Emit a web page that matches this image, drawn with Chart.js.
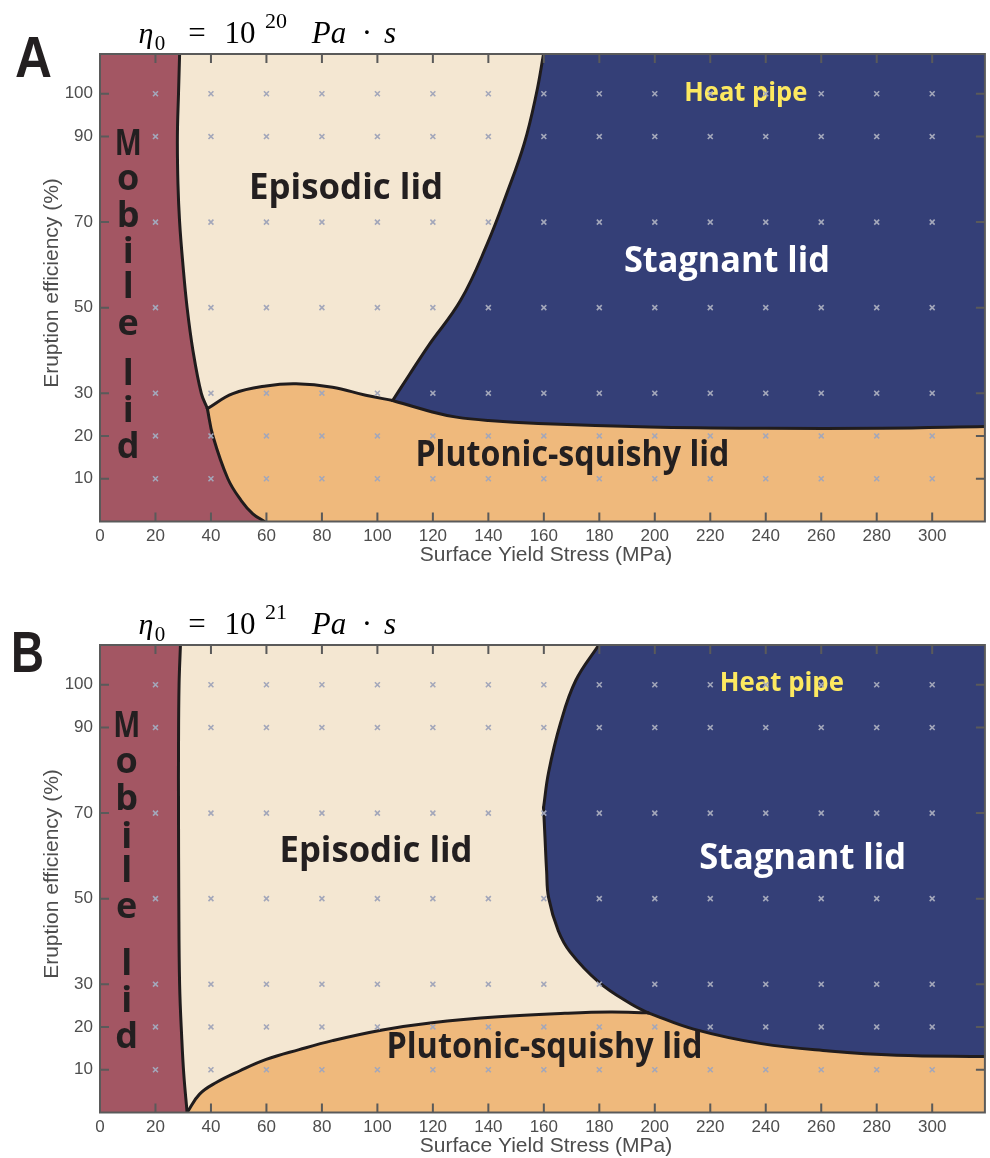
<!DOCTYPE html>
<html>
<head>
<meta charset="utf-8">
<script src="https://cdn.jsdelivr.net/npm/chart.js@4.4.1/dist/chart.umd.min.js"></script>
<style>
  html, body { margin: 0; padding: 0; background: #fff; }
  body { width: 990px; height: 1158px; position: relative; overflow: hidden; }
  canvas { position: absolute; left: 0; }
  #panel-a { top: 0; }
  #panel-b { top: 591px; }
</style>
</head>
<body>
<canvas id="panel-a" width="990" height="567"></canvas>
<canvas id="panel-b" width="990" height="567"></canvas>
<script>
// --- Ejes ---
const X_MAX = 319;
const Y_MAX = 109.3;
const xTickValues = [0, 20, 40, 60, 80, 100, 120, 140, 160, 180, 200, 220, 240, 260, 280, 300];
const yTickValues = [10, 20, 30, 50, 70, 90, 100];

// --- Malla de simulaciones (marcas x) ---
const gridStress = [20, 40, 60, 80, 100, 120, 140, 160, 180, 200, 220, 240, 260, 280, 300];
const gridEfficiency = [10, 20, 30, 50, 70, 90, 100];

// --- Panel A: fronteras [esfuerzo, eficiencia] ---
const aMobileUpper = [[28.7, 109.3], [28.3, 100], [27.9, 90], [28.1, 79], [28.7, 70], [29.9, 60], [31.4, 50], [33.5, 40], [36.5, 30], [38.7, 26.4]];
const aMobileLower = [[38.7, 26.4], [40.7, 20], [46.1, 10], [50.9, 4.9], [55.1, 1.8], [59.3, 0]];
const aPlutonicEpisodic = [[38.7, 26.4], [47.9, 29.9], [59.9, 31.7], [70.7, 32.2], [83.8, 31.4], [95.8, 29.5], [105.5, 28.3]];
const aPlutonicStagnant = [[105.5, 28.3], [119.8, 25.6], [128.5, 24.4], [140, 23.6], [158, 22.9], [198, 22.1], [240, 21.8], [282, 21.8], [319, 22.2]];
const aStagnantEpisodic = [[105.5, 28.3], [111.4, 34.2], [118.5, 41.2], [130, 51.7], [139.6, 64.9], [146.6, 76.6], [153, 88.5], [157.3, 100], [159.9, 109.3]];

// --- Panel B: fronteras ---
const bMobile = [[29.0, 109.3], [28.5, 100], [28.3, 85], [28.3, 71], [28.4, 50], [28.7, 30], [29.5, 17], [30.2, 9], [31.4, 0]];
const bPlutonicEpisodic = [[31.4, 0], [35.9, 4.3], [41.9, 7.0], [50.3, 9.7], [59.9, 12.4], [71.8, 14.7], [83.8, 16.8], [101.8, 19.3], [119.7, 21.0], [143.7, 22.4], [167.6, 23.2], [184, 23.5], [197.6, 23.3]];
const bPlutonicStagnant = [[197.6, 23.3], [214, 19.5], [238.4, 16.1], [262.8, 14.4], [287.2, 13.4], [319, 13.1]];
const bStagnantUpper = [[179.8, 109.3], [171.5, 101], [166, 91], [161.7, 79.5], [159.9, 71.3]];
const bStagnantLower = [[159.9, 71.3], [160.4, 64.5], [161.0, 56.5], [161.7, 50.3], [165.2, 42.5], [169.5, 37.5], [179.8, 30.5], [191.6, 25.3], [197.6, 23.3]];

// --- Colores ---
const COLORS = {
    mobile: '#a35663',
    episodic: '#f4e7d2',
    stagnant: '#343f77',
    plutonic: '#efb97c',
    edge: '#201c1d',
    mark: '#a3a7ba',
    axis: '#5a5a5a',
    text: '#4d4d4d',
    dark: '#231f20',
    heat: '#fde960'
};
const TENSION = 0.4;

const toPoints = arr => arr.map(([x, y]) => ({ x, y }));
const rev = arr => [...arr].reverse();

// une tramos duplicando extremos para que las esquinas queden en punta
function polygon(...parts) {
    const out = [];
    parts.forEach(part => {
        const pts = toPoints(part);
        out.push(pts[0], ...pts, pts[pts.length - 1]);
    });
    return out;
}

const gridPoints = [];
gridEfficiency.forEach(y => gridStress.forEach(x => gridPoints.push({ x, y })));

const corner = (x, y) => [[x, y]];

const panels = {
    a: {
        letter: 'A', letterX: 15, letterY: 77, letterW: 37,
        exponent: '20',
        boundaries: [aMobileUpper, aMobileLower, aPlutonicEpisodic, aPlutonicStagnant, aStagnantEpisodic],
        regions: [
            { color: COLORS.mobile, points: polygon(corner(0, Y_MAX), aMobileUpper, aMobileLower, corner(0, 0)) },
            { color: COLORS.plutonic, points: polygon(aPlutonicEpisodic, aPlutonicStagnant, corner(X_MAX, 0), rev(aMobileLower)) },
            { color: COLORS.stagnant, points: polygon(rev(aStagnantEpisodic), aPlutonicStagnant, corner(X_MAX, Y_MAX)) }
        ],
        labels: [
            { text: 'Episodic lid', x: 88.7, y: 75.4, size: 35, width: 194, color: COLORS.dark },
            { text: 'Stagnant lid', x: 226.0, y: 58.4, size: 36, width: 206, color: '#ffffff' },
            { text: 'Heat pipe', x: 232.8, y: 98.4, size: 27, width: 123, color: COLORS.heat },
            { text: 'Plutonic-squishy lid', x: 170.3, y: 12.9, size: 35, width: 314, color: COLORS.dark }
        ],
        mobileX: 10.17,
        mobileY: [85.7, 77.5, 68.9, 60.4, 52.2, 43.6, 31.9, 23.3, 14.8]
    },
    b: {
        letter: 'B', letterX: 11, letterY: 81, letterW: 33,
        exponent: '21',
        boundaries: [bMobile, bPlutonicEpisodic, bPlutonicStagnant, bStagnantUpper, bStagnantLower],
        regions: [
            { color: COLORS.mobile, points: polygon(corner(0, Y_MAX), bMobile, corner(0, 0)) },
            { color: COLORS.plutonic, points: polygon(bPlutonicEpisodic, bPlutonicStagnant, corner(X_MAX, 0)) },
            { color: COLORS.stagnant, points: polygon(bStagnantUpper, bStagnantLower, bPlutonicStagnant, corner(X_MAX, Y_MAX)) }
        ],
        labels: [
            { text: 'Episodic lid', x: 99.5, y: 58.6, size: 35, width: 193, color: COLORS.dark },
            { text: 'Stagnant lid', x: 253.3, y: 56.9, size: 36, width: 207, color: '#ffffff' },
            { text: 'Heat pipe', x: 245.8, y: 98.6, size: 27, width: 124, color: COLORS.heat },
            { text: 'Plutonic-squishy lid', x: 160.2, y: 12.7, size: 35, width: 316, color: COLORS.dark }
        ],
        mobileX: 9.6,
        mobileY: [87.9, 79.3, 70.7, 61.8, 54.0, 45.4, 32.2, 23.6, 15.0]
    }
};

const MOBILE_LETTERS = ['M', 'o', 'b', 'i', 'l', 'e', 'l', 'i', 'd'];

function drawTitle(ctx, exponent) {
    const serif = '"Liberation Serif", "DejaVu Serif", serif';
    // trozos centrados en su x
    const pieces = [
        { t: 'η', x: 146, y: 43, size: 30, italic: true },
        { t: '0', x: 160, y: 50, size: 21 },
        { t: '=', x: 197, y: 43, size: 31 },
        { t: '10', x: 240, y: 43, size: 31 },
        { t: exponent, x: 276, y: 28, size: 22 },
        { t: 'Pa', x: 329, y: 43, size: 31, italic: true },
        { t: '·', x: 367, y: 43, size: 31 },
        { t: 's', x: 390, y: 43, size: 31, italic: true }
    ];
    ctx.fillStyle = '#000';
    ctx.textAlign = 'center';
    ctx.textBaseline = 'alphabetic';
    pieces.forEach(p => {
        ctx.font = `${p.italic ? 'italic ' : ''}${p.size}px ${serif}`;
        ctx.fillText(p.t, p.x, p.y);
    });
}

function decorPlugin(panel) {
    return {
        id: 'panelDecor',
        beforeDatasetDraw(chart, args) {
            if (!chart.data.datasets[args.index].isGrid) return;
            const { ctx, scales: { x, y } } = chart;
            ctx.save();
            ctx.textAlign = 'center';
            ctx.textBaseline = 'alphabetic';
            panel.labels.forEach(l => {
                ctx.font = `bold ${l.size}px "Open Sans"`;
                ctx.fillStyle = l.color;
                ctx.fillText(l.text, x.getPixelForValue(l.x), y.getPixelForValue(l.y), l.width);
            });
            ctx.font = 'bold 36px "Open Sans"';
            ctx.fillStyle = COLORS.dark;
            MOBILE_LETTERS.forEach((ch, i) => {
                ctx.fillText(ch, x.getPixelForValue(panel.mobileX), y.getPixelForValue(panel.mobileY[i]), 27);
            });
            ctx.restore();
        },
        afterDraw(chart) {
            const { ctx, chartArea: area, scales: { x, y } } = chart;
            ctx.save();
            // marco y marcas hacia dentro
            ctx.strokeStyle = COLORS.axis;
            ctx.lineWidth = 2;
            ctx.strokeRect(area.left, area.top, area.right - area.left, area.bottom - area.top);
            ctx.beginPath();
            xTickValues.forEach(v => {
                if (v === 0) return;
                const px = x.getPixelForValue(v);
                ctx.moveTo(px, area.bottom); ctx.lineTo(px, area.bottom - 9);
                ctx.moveTo(px, area.top); ctx.lineTo(px, area.top + 9);
            });
            yTickValues.forEach(v => {
                const py = y.getPixelForValue(v);
                ctx.moveTo(area.left, py); ctx.lineTo(area.left + 9, py);
                ctx.moveTo(area.right, py); ctx.lineTo(area.right - 9, py);
            });
            ctx.stroke();

            // títulos de ejes
            ctx.fillStyle = COLORS.text;
            ctx.font = '21px "Liberation Sans"';
            ctx.textAlign = 'center';
            ctx.textBaseline = 'alphabetic';
            ctx.fillText('Surface Yield Stress (MPa)', 546, 561);
            ctx.save();
            ctx.translate(58, 283);
            ctx.rotate(-Math.PI / 2);
            ctx.fillText('Eruption efficiency (%)', 0, 0);
            ctx.restore();

            // letra del panel
            ctx.fillStyle = COLORS.dark;
            ctx.font = 'bold 57px "Liberation Sans"';
            ctx.textAlign = 'left';
            ctx.fillText(panel.letter, panel.letterX, panel.letterY, panel.letterW);

            drawTitle(ctx, panel.exponent);
            ctx.restore();
        }
    };
}

function makeChart(canvasId, panel) {
    const datasets = [
        {
            data: gridPoints,
            isGrid: true,
            showLine: false,
            pointStyle: 'crossRot',
            pointRadius: 3.5,
            pointHoverRadius: 3.5,
            pointBorderColor: COLORS.mark,
            pointBorderWidth: 1.6,
            order: 0
        },
        ...panel.boundaries.map(b => ({
            data: toPoints(b),
            showLine: true,
            fill: false,
            borderColor: COLORS.edge,
            borderWidth: 3,
            borderCapStyle: 'round',
            borderJoinStyle: 'round',
            pointRadius: 0,
            tension: TENSION,
            clip: 0,
            order: 1
        })),
        ...panel.regions.map(r => ({
            data: r.points,
            showLine: true,
            fill: 'shape',
            backgroundColor: r.color,
            borderColor: 'transparent',
            borderWidth: 0,
            pointRadius: 0,
            tension: TENSION,
            order: 2
        })),
        {
            data: polygon(corner(0, 0), corner(0, Y_MAX), corner(X_MAX, Y_MAX), corner(X_MAX, 0)),
            showLine: true,
            fill: 'shape',
            backgroundColor: COLORS.episodic,
            borderColor: 'transparent',
            borderWidth: 0,
            pointRadius: 0,
            tension: 0,
            order: 3
        }
    ];

    return new Chart(document.getElementById(canvasId), {
        type: 'scatter',
        data: { datasets },
        options: {
            responsive: false,
            animation: false,
            events: [],
            layout: { padding: { top: 54, right: 2, left: 0, bottom: 0 } },
            plugins: {
                legend: { display: false },
                tooltip: { enabled: false }
            },
            scales: {
                x: {
                    type: 'linear',
                    min: 0,
                    max: X_MAX,
                    grid: { display: false, drawTicks: false },
                    border: { display: false },
                    ticks: {
                        color: COLORS.text,
                        font: { family: 'Liberation Sans', size: 17 },
                        padding: 5,
                        maxRotation: 0,
                        autoSkip: false
                    },
                    afterBuildTicks: scale => { scale.ticks = xTickValues.map(value => ({ value })); },
                    afterFit: scale => { scale.height = 45.5; }
                },
                y: {
                    type: 'linear',
                    min: 0,
                    max: Y_MAX,
                    grid: { display: false, drawTicks: false },
                    border: { display: false },
                    ticks: {
                        color: COLORS.text,
                        font: { family: 'Liberation Sans', size: 17 },
                        padding: 7,
                        autoSkip: false
                    },
                    afterBuildTicks: scale => { scale.ticks = yTickValues.map(value => ({ value })); },
                    afterFit: scale => { scale.width = 100; }
                }
            }
        },
        plugins: [decorPlugin(panel)]
    });
}

makeChart('panel-a', panels.a);
makeChart('panel-b', panels.b);
</script>
</body>
</html>
